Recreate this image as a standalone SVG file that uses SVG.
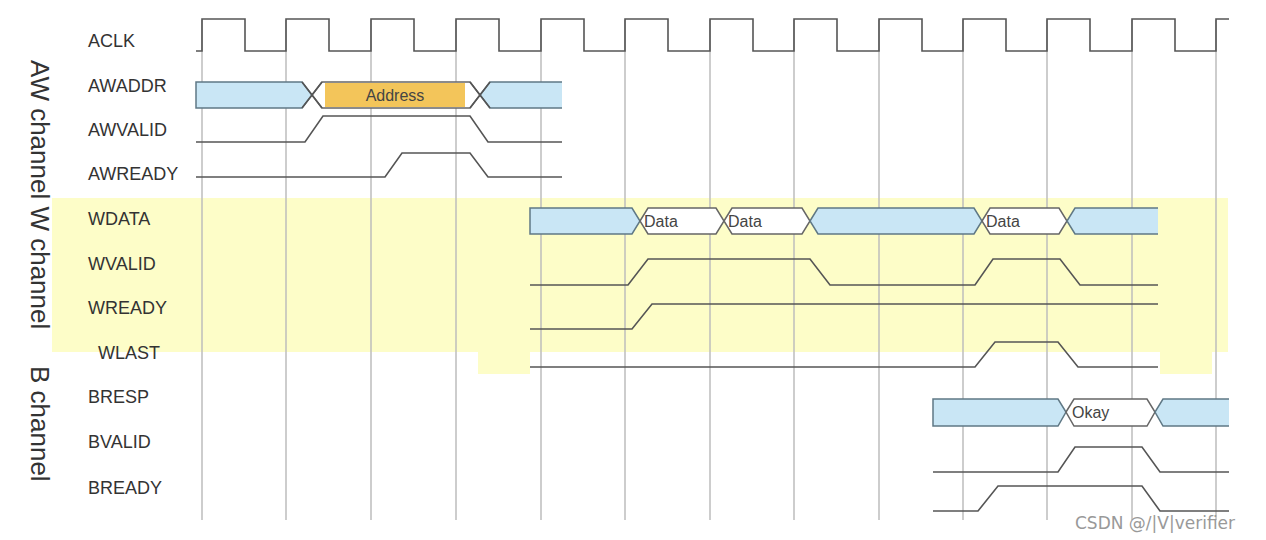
<svg xmlns="http://www.w3.org/2000/svg" width="1266" height="540" viewBox="0 0 1266 540">
<style>
.lbl{font-family:"Liberation Sans",Arial,sans-serif;font-size:18px;fill:#333}
.ch{font-family:"Liberation Sans",Arial,sans-serif;font-size:26px;fill:#333}
.grid{stroke:#bdbdbd;stroke-width:1.5}
.sig{fill:none;stroke:#555;stroke-width:1.6}
.bus{fill:#c9e6f5;stroke:#5f7885;stroke-width:1.5}
.hex{fill:#fff;stroke:#666;stroke-width:1.5}
.dt{font-family:"Liberation Sans",Arial,sans-serif;font-size:16px;fill:#444}
</style>
<rect width="1266" height="540" fill="#fff"/>
<g id="band">
<path d="M52 198H1228V352H1212V374H1160V352H530V374H478V352H52Z" fill="#fdfdc8"/>
</g>
<g id="grid">
<line class="grid" x1="202" y1="20" x2="202" y2="520"/><line class="grid" x1="286" y1="20" x2="286" y2="520"/>
<line class="grid" x1="371" y1="20" x2="371" y2="520"/><line class="grid" x1="456" y1="20" x2="456" y2="520"/>
<line class="grid" x1="541" y1="20" x2="541" y2="520"/><line class="grid" x1="625" y1="20" x2="625" y2="520"/>
<line class="grid" x1="710" y1="20" x2="710" y2="520"/><line class="grid" x1="794" y1="20" x2="794" y2="520"/>
<line class="grid" x1="879" y1="20" x2="879" y2="520"/><line class="grid" x1="963" y1="20" x2="963" y2="520"/>
<line class="grid" x1="1047" y1="20" x2="1047" y2="520"/><line class="grid" x1="1132" y1="20" x2="1132" y2="520"/>
<line class="grid" x1="1216" y1="20" x2="1216" y2="520"/>
</g>
<g id="labels">
<text class="lbl" x="88" y="47">ACLK</text>
<text class="lbl" x="88" y="92">AWADDR</text>
<text class="lbl" x="88" y="136">AWVALID</text>
<text class="lbl" x="88" y="180">AWREADY</text>
<text class="lbl" x="88" y="225">WDATA</text>
<text class="lbl" x="88" y="270">WVALID</text>
<text class="lbl" x="88" y="314">WREADY</text>
<text class="lbl" x="98" y="359">WLAST</text>
<text class="lbl" x="88" y="403">BRESP</text>
<text class="lbl" x="88" y="448">BVALID</text>
<text class="lbl" x="88" y="494">BREADY</text>
<text class="ch" transform="translate(31,60) rotate(90)">AW channel W channel</text>
<text class="ch" transform="translate(31,366) rotate(90)">B channel</text>
</g>
<g id="aclk">
<path class="sig" stroke="#3b5560" d="M196 51H202V19H245V51H286V19H329V51H371V19H414V51H456V19H499V51H541V19H584V51H625V19H668V51H710V19H753V51H794V19H837V51H879V19H922V51H963V19H1006V51H1047V19H1090V51H1132V19H1175V51H1216V19H1229"/>
</g>
<g id="awaddr">
<path class="bus" d="M196 82H302L312 95L302 108H196Z"/>
<path class="hex" d="M312 95L322 82H470L480 95L470 108H322Z"/>
<rect x="325" y="83" width="140" height="24" fill="#f3c55a"/>
<text class="dt" x="395" y="101" text-anchor="middle" fill="#8a6a20">Address</text>
<path class="bus" d="M562 82H490L480 95L490 108H562"/>
<path class="sig" d="M302 82L322 108M302 108L322 82M470 82L490 108M470 108L490 82"/>
</g>
<g id="awvalid"><path class="sig" d="M196 142H305L323 116H470L488 142H562"/></g>
<g id="awready"><path class="sig" d="M196 177H385L402 153H470L488 177H562"/></g>
<g id="wdata">
<path class="bus" d="M530 208H632L640 221L632 234H530Z"/>
<path class="hex" d="M640 221L648 208H716L724 221L716 234H648Z"/>
<path class="hex" d="M724 221L732 208H802L810 221L802 234H732Z"/>
<path class="bus" d="M810 221L818 208H974L982 221L974 234H818Z"/>
<path class="hex" d="M982 221L990 208H1059L1067 221L1059 234H990Z"/>
<path class="bus" d="M1158 208H1075L1067 221L1075 234H1158"/>
<text class="dt" x="644" y="227">Data</text>
<text class="dt" x="728" y="227">Data</text>
<text class="dt" x="986" y="227">Data</text>
</g>
<g id="wvalid"><path class="sig" d="M530 285H628L648 259H810L830 285H975L993 259H1060L1080 285H1158"/></g>
<g id="wready"><path class="sig" d="M530 329H632L652 304H1158"/></g>
<g id="wlast"><path class="sig" d="M530 367H975L995 342H1058L1078 367H1158"/></g>
<g id="bresp">
<path class="bus" d="M933 399H1058L1066 412L1058 426H933Z"/>
<path class="hex" d="M1066 412L1074 399H1147L1155 412L1147 426H1074Z"/>
<path class="bus" d="M1229 399H1163L1155 412L1163 426H1229"/>
<text class="dt" x="1072" y="418">Okay</text>
</g>
<g id="bvalid"><path class="sig" d="M933 472H1058L1075 447H1142L1160 472H1229"/></g>
<g id="bready"><path class="sig" d="M933 511H978L998 486H1142L1160 511H1229"/></g>
<text x="1075" y="529" font-family="DejaVu Sans,sans-serif" font-size="17" fill="#999">CSDN @/|V|verifier</text>
</svg>
